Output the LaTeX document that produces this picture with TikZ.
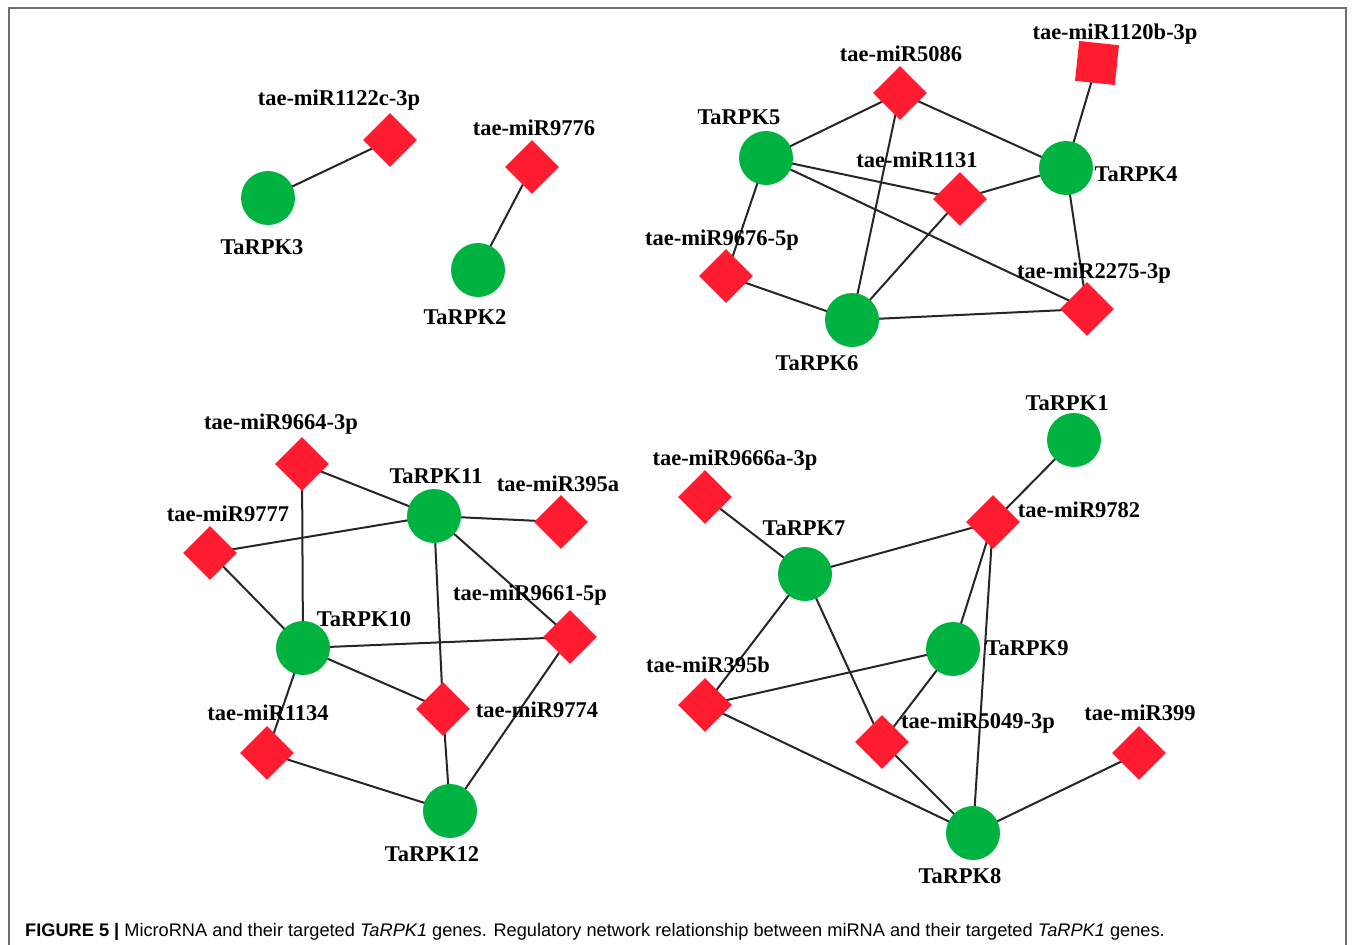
\documentclass[tikz,border=0pt]{standalone}
\usepackage{fontspec}
\setmainfont{Liberation Serif}
\setsansfont{Liberation Sans}
\usetikzlibrary{shapes.geometric}
\pgfdeclarelayer{bg}
\pgfsetlayers{bg,main}
\definecolor{gnode}{RGB}{0,178,64}
\definecolor{rnode}{RGB}{255,28,48}
\definecolor{framec}{RGB}{110,110,110}
\begin{document}
\begin{tikzpicture}[x=1pt,y=-1pt,
  gene/.style={circle,fill=gnode,inner sep=0,minimum size=54pt},
  mir/.style={diamond,fill=rnode,inner sep=0,minimum width=54pt,minimum height=54pt},
  mirsq/.style={rectangle,fill=rnode,inner sep=0,minimum size=40pt,rotate=-6},
  lab/.style={font=\fontsize{22.5}{25}\selectfont\bfseries,inner sep=0},
  edge/.style={draw=black!85,line width=2pt}]
\useasboundingbox (0,0) rectangle (1355,945);
\draw[framec,line width=1.4pt] (9,965) -- (9,8) -- (1346,8) -- (1346,965);
% ---- top-left
\node[gene] (k3) at (268,198) {};
\node[lab] (k3l) at (262,247) {TaRPK3};
\node[mir] (m1122) at (390,140) {};
\node[lab] (m1122l) at (339,100) {tae-miR1122c-3p};
\node[mir] (m9776) at (532,167) {};
\node[lab] (m9776l) at (534,128) {tae-miR9776};
\node[gene] (k2) at (478,270) {};
\node[lab] (k2l) at (465,317) {TaRPK2};
% ---- top-right
\node[mir] (m5086) at (900,93) {};
\node[lab] (m5086l) at (901,54) {tae-miR5086};
\node[mirsq] (m1120) at (1097,63) {};
\node[lab] (m1120l) at (1115,34) {tae-miR1120b-3p};
\node[gene] (k5) at (766,158) {};
\node[lab] (k5l) at (739,117) {TaRPK5};
\node[mir] (m1131) at (960,199) {};
\node[gene] (k4) at (1066,168) {};
\node[lab] (k4l) at (1136,174) {TaRPK4};
\node[mir] (m9676) at (726,276) {};
\node[mir] (m2275) at (1087,309) {};
\node[gene] (k6) at (852,320) {};
\node[lab] (k6l) at (817,363) {TaRPK6};
% ---- bottom-left
\node[mir] (m9664) at (302,464) {};
\node[lab] (m9664l) at (281,424) {tae-miR9664-3p};
\node[gene] (k11) at (434,516) {};
\node[lab] (k11l) at (436,476) {TaRPK11};
\node[mir] (m395a) at (561,522) {};
\node[lab] (m395al) at (558,484) {tae-miR395a};
\node[mir] (m9777) at (210,553) {};
\node[lab] (m9777l) at (228,514) {tae-miR9777};
\node[gene] (k10) at (303,648) {};
\node[mir] (m9661) at (570,637) {};
\node[mir] (m9774) at (443,709) {};
\node[lab] (m9774l) at (537,710) {tae-miR9774};
\node[mir] (m1134) at (267,753) {};
\node[gene] (k12) at (450,811) {};
\node[lab] (k12l) at (432,854) {TaRPK12};
% ---- bottom-right
\node[gene] (k1) at (1074,440) {};
\node[lab] (k1l) at (1067,403) {TaRPK1};
\node[mir] (m9666) at (705,497) {};
\node[lab] (m9666l) at (735,460) {tae-miR9666a-3p};
\node[mir] (m9782) at (993,522) {};
\node[lab] (m9782l) at (1079,510) {tae-miR9782};
\node[gene] (k7) at (805,574) {};
\node[lab] (k7l) at (804,528) {TaRPK7};
\node[gene] (k9) at (953,649) {};
\node[lab] (k9l) at (1027,648) {TaRPK9};
\node[mir] (m395b) at (705,705) {};
\node[mir] (m5049) at (882,742) {};
\node[mir] (m399) at (1139,753) {};
\node[lab] (m399l) at (1140,713) {tae-miR399};
\node[gene] (k8) at (973,833) {};
\node[lab] (k8l) at (960,876) {TaRPK8};
% edges
\begin{pgfonlayer}{bg}
\path[edge] (k3.center) -- (m1122.center);
\path[edge] (m9776.center) -- (k2.center);
\path[edge] (k5.center) -- (m5086.center);
\path[edge] (m5086.center) -- (k4.center);
\path[edge] (m5086.center) -- (k6.center);
\path[edge] (k5.center) -- (m1131.center);
\path[edge] (m1131.center) -- (k4.center);
\path[edge] (m1131.center) -- (k6.center);
\path[edge] (k5.center) -- (m2275.center);
\path[edge] (k4.center) -- (m2275.center);
\path[edge] (k5.center) -- (m9676.center);
\path[edge] (m9676.center) -- (k6.center);
\path[edge] (k6.center) -- (m2275.center);
\path[edge] (k4.center) -- (m1120.center);
\path[edge] (m9664.center) -- (k11.center);
\path[edge] (m9664.center) -- (k10.center);
\path[edge] (m9777.center) -- (k11.center);
\path[edge] (m9777.center) -- (k10.center);
\path[edge] (k11.center) -- (m395a.center);
\path[edge] (k11.center) -- (m9661.center);
\path[edge] (k11.center) -- (m9774.center);
\path[edge] (k10.center) -- (m9661.center);
\path[edge] (k10.center) -- (m9774.center);
\path[edge] (k10.center) -- (m1134.center);
\path[edge] (m9774.center) -- (k12.center);
\path[edge] (m1134.center) -- (k12.center);
\path[edge] (m9661.center) -- (k12.center);
\path[edge] (k1.center) -- (m9782.center);
\path[edge] (m9782.center) -- (k7.center);
\path[edge] (m9782.center) -- (k9.center);
\path[edge] (m9782.center) -- (k8.center);
\path[edge] (m9666.center) -- (k7.center);
\path[edge] (k7.center) -- (m395b.center);
\path[edge] (k7.center) -- (m5049.center);
\path[edge] (k9.center) -- (m395b.center);
\path[edge] (k9.center) -- (m5049.center);
\path[edge] (m395b.center) -- (k8.center);
\path[edge] (m5049.center) -- (k8.center);
\path[edge] (k8.center) -- (m399.center);
\end{pgfonlayer}
% labels drawn over lines
\node[lab] (m1131l) at (917,160) {tae-miR1131};
\node[lab] (m9676l) at (722,240) {tae-miR9676-5p};
\node[lab] (m2275l) at (1094,273) {tae-miR2275-3p};
\node[lab] (k10l) at (364,619) {TaRPK10};
\node[lab] (m9661l) at (530,595) {tae-miR9661-5p};
\node[lab] (m1134l) at (268,713) {tae-miR1134};
\node[lab] (m395bl) at (708,665) {tae-miR395b};
\node[lab] (m5049l) at (978,723) {tae-miR5049-3p};
% caption
\node[anchor=base west,inner sep=0,font=\sffamily\fontsize{18.2}{21}\selectfont] (cap) at (25,936)
 {\textbf{FIGURE 5 |} MicroRNA and their targeted \textit{TaRPK1} genes. Regulatory network relationship between miRNA and their targeted \textit{TaRPK1} genes.};
\end{tikzpicture}
\end{document}
